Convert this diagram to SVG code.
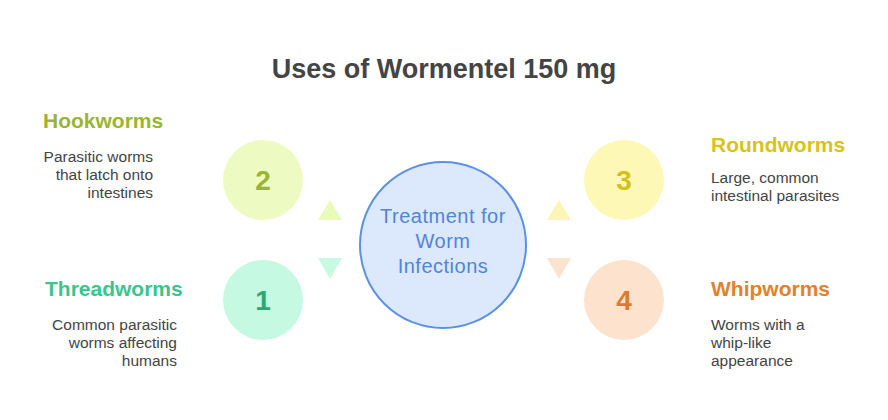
<svg xmlns="http://www.w3.org/2000/svg" width="888" height="420" viewBox="0 0 888 420">
<style>
text{font-family:"Liberation Sans","Noto Sans",sans-serif}
.title{font-size:27px;font-weight:bold;fill:#444;text-anchor:middle}
.head{font-size:21px;font-weight:bold}
.desc{font-size:15.5px;fill:#444}
.num{font-size:28px;font-weight:bold;text-anchor:middle}
.ctr{font-size:20px;fill:#4f86d6;text-anchor:middle;letter-spacing:0.5px}
</style>
<rect width="888" height="420" fill="#ffffff"/>
<text class="title" x="444" y="78">Uses of Wormentel 150 mg</text>
<g id="connectors">
<polygon points="330,200 318,220 342,220" fill="#e9fbb9"/>
<polygon points="318,258 342,258 330,279" fill="#c8f9e2"/>
<polygon points="559,200 547,220 571,220" fill="#fcf6b3"/>
<polygon points="547,258 571,258 559,279" fill="#fbe3cd"/>
</g>
<g id="center">
<circle cx="443" cy="245" r="83" fill="#dce8fc" stroke="#5b91e3" stroke-width="2"/>
<text class="ctr" x="443" y="223">Treatment for</text>
<text class="ctr" x="443" y="248">Worm</text>
<text class="ctr" x="443" y="273">Infections</text>
</g>
<g id="node2">
<circle cx="263" cy="180" r="40" fill="#edfbc2"/>
<text class="num" x="263" y="190" fill="#9ab532">2</text>
<text class="head" x="43" y="128" fill="#9ab532">Hookworms</text>
<text class="desc" x="153" y="162" text-anchor="end">Parasitic worms</text>
<text class="desc" x="153" y="180" text-anchor="end">that latch onto</text>
<text class="desc" x="153" y="198" text-anchor="end">intestines</text>
</g>
<g id="node1">
<circle cx="263" cy="300" r="40" fill="#c6f9e1"/>
<text class="num" x="263" y="310" fill="#2ea771">1</text>
<text class="head" x="45" y="296" fill="#3cc48c">Threadworms</text>
<text class="desc" x="177" y="330" text-anchor="end">Common parasitic</text>
<text class="desc" x="177" y="348" text-anchor="end">worms affecting</text>
<text class="desc" x="177" y="366" text-anchor="end">humans</text>
</g>
<g id="node3">
<circle cx="624" cy="180" r="40" fill="#fdf8b6"/>
<text class="num" x="624" y="190" fill="#d4c01a">3</text>
<text class="head" x="711" y="152" fill="#d8c21c">Roundworms</text>
<text class="desc" x="711" y="183">Large, common</text>
<text class="desc" x="711" y="201">intestinal parasites</text>
</g>
<g id="node4">
<circle cx="624" cy="300" r="40" fill="#fde3cd"/>
<text class="num" x="624" y="310" fill="#e07a2a">4</text>
<text class="head" x="711" y="296" fill="#e0822c">Whipworms</text>
<text class="desc" x="711" y="330">Worms with a</text>
<text class="desc" x="711" y="348">whip-like</text>
<text class="desc" x="711" y="366">appearance</text>
</g>
</svg>
